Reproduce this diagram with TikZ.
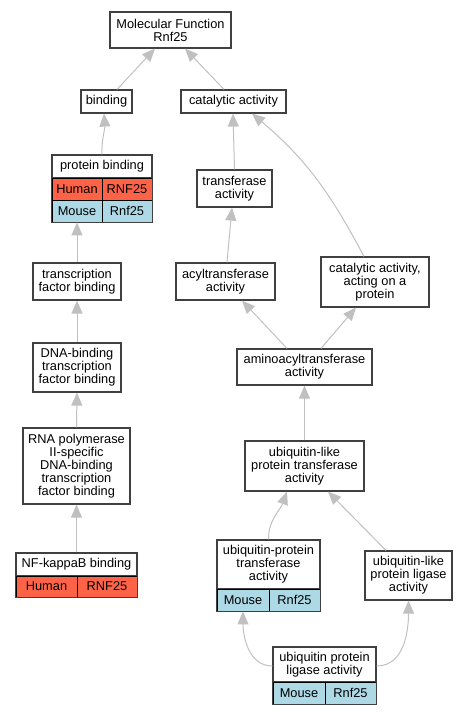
\documentclass[tikz,border=0pt]{standalone}
\usepackage{fontspec}
\setmainfont{Liberation Sans}
\usetikzlibrary{arrows.meta}

\definecolor{humanred}{HTML}{FF6347}
\definecolor{mouseblue}{HTML}{ADD8E6}
\definecolor{edgegray}{HTML}{C0C0C0}
\definecolor{framegray}{HTML}{404040}

\begin{document}
\begin{tikzpicture}[x=1pt, y=1pt]
            \tikzset{term/.style = {shape=rectangle, draw=framegray, line width=1.2pt, fill=white, align=center, inner sep=0pt, font=\fontsize{12.8}{13}\selectfont}}
            \tikzset{cell/.style = {shape=rectangle, draw=black, line width=0.8pt, inner sep=0pt, minimum height=22pt, font=\fontsize{12.8}{13}\selectfont}}
            \tikzset{human/.style = {cell, fill=humanred}}
            \tikzset{mouse/.style = {cell, fill=mouseblue}}
            \tikzset{frame/.style = {draw=framegray, line width=1.2pt}}
            \tikzset{edge/.style = {->, >={Triangle[length=13pt,width=11pt]}, draw=edgegray, line width=1pt}}

            \useasboundingbox (0,0) rectangle (467,-715);

            % left column
            \node[term, minimum width=121pt, minimum height=36pt] (mf) at (170.5,-30) {Molecular Function\\Rnf25};
            \node[term, minimum width=51pt, minimum height=23pt] (bind) at (106.5,-101.5) {binding};
            \node[term, minimum width=105pt, minimum height=23pt] (cat) at (233.5,-101.5) {catalytic activity};

            \node[term, minimum width=100pt, minimum height=23pt] (pb) at (102,-166.5) {protein binding};
            \node[human, minimum width=50pt] (pbh) at (77,-189) {Human};
            \node[human, minimum width=50pt] (pbhg) at (127,-189) {RNF25};
            \node[mouse, minimum width=50pt] (pbm) at (77,-211) {Mouse};
            \node[mouse, minimum width=50pt] (pbmg) at (127,-211) {Rnf25};
            \draw[frame] (pb.north west) rectangle (pbmg.south east);

            \node[term, minimum width=88pt, minimum height=37pt] (tfb) at (77,-281.5) {transcription\\factor binding};
            \node[term, minimum width=88pt, minimum height=49pt] (dna) at (77,-367.5) {DNA-binding\\transcription\\factor binding};
            \node[term, minimum width=107pt, minimum height=76pt] (rna) at (76.5,-466) {RNA polymerase\\II-specific\\DNA-binding\\transcription\\factor binding};

            \node[term, minimum width=121pt, minimum height=23pt] (nf) at (76.5,-564.5) {NF-kappaB binding};
            \node[human, minimum width=61pt, minimum height=21pt] (nfh) at (46.5,-586.5) {Human};
            \node[human, minimum width=60pt, minimum height=21pt] (nfhg) at (107,-586.5) {RNF25};
            \draw[frame] (nf.north west) rectangle (nfhg.south east);

            % right column
            \node[term, minimum width=75pt, minimum height=37pt] (tr) at (234.5,-188.5) {transferase\\activity};
            \node[term, minimum width=99pt, minimum height=37pt] (acyl) at (225.5,-281.5) {acyltransferase\\activity};
            \node[term, minimum width=108pt, minimum height=50pt] (cap) at (375,-282) {catalytic activity,\\acting on a\\protein};
            \node[term, minimum width=135pt, minimum height=36pt] (amino) at (304.5,-367) {aminoacyltransferase\\activity};
            \node[term, minimum width=119pt, minimum height=50pt] (ult) at (304.5,-466) {ubiquitin-like\\protein transferase\\activity};

            \node[term, minimum width=103pt, minimum height=49pt] (upt) at (268.5,-564.5) {ubiquitin-protein\\transferase\\activity};
            \node[mouse, minimum width=52pt] (uptm) at (243,-600) {Mouse};
            \node[mouse, minimum width=51pt] (uptmg) at (294.5,-600) {Rnf25};
            \draw[frame] (upt.north west) rectangle (uptmg.south east);

            \node[term, minimum width=87pt, minimum height=49pt] (ull) at (408.5,-575.5) {ubiquitin-like\\protein ligase\\activity};

            \node[term, minimum width=103pt, minimum height=35pt] (upl) at (324.5,-664.5) {ubiquitin protein\\ligase activity};
            \node[mouse, minimum width=52pt] (uplm) at (299,-693) {Mouse};
            \node[mouse, minimum width=51pt] (uplmg) at (350.5,-693) {Rnf25};
            \draw[frame] (upl.north west) rectangle (uplmg.south east);

            % edges
            \draw[edge] ([xshift=10.5pt]bind.north) -- ([xshift=-15.5pt]mf.south);
            \draw[edge] ([xshift=-9.5pt]cat.north) -- ([xshift=14.5pt]mf.south);
            \draw[edge] (pb.north) to[out=92, in=-86] ([xshift=-2.5pt]bind.south);
            \draw[edge] (tr.north) -- ([xshift=-0.5pt]cat.south);
            \draw[edge] ([xshift=-11pt]cap.north) to[out=118, in=-40] ([xshift=18.5pt]cat.south);
            \draw[edge] (tfb.north) -- (pbm.south);
            \draw[edge] ([xshift=1.5pt]acyl.north) -- ([xshift=-2.5pt]tr.south);
            \draw[edge] (dna.north) -- (tfb.south);
            \draw[edge] ([xshift=-17.5pt]amino.north) -- ([xshift=16.5pt]acyl.south);
            \draw[edge] ([xshift=16.5pt]amino.north) -- ([xshift=-19pt]cap.south);
            \draw[edge] (rna.north) -- (dna.south);
            \draw[edge] (ult.north) -- (amino.south);
            \draw[edge] (nf.north) -- (rna.south);
            \draw[edge] (upt.north) to[out=90, in=-110] ([xshift=-17.5pt]ult.south);
            \draw[edge] ([xshift=-22.5pt]ull.north) -- ([xshift=23.5pt]ult.south);
            \draw[edge] ([yshift=-1.5pt]upl.west) to[out=180, in=-90] (uptm.south);
            \draw[edge] ([yshift=-1.5pt]upl.east) to[out=0, in=-90] (ull.south);
\end{tikzpicture}
\end{document}
